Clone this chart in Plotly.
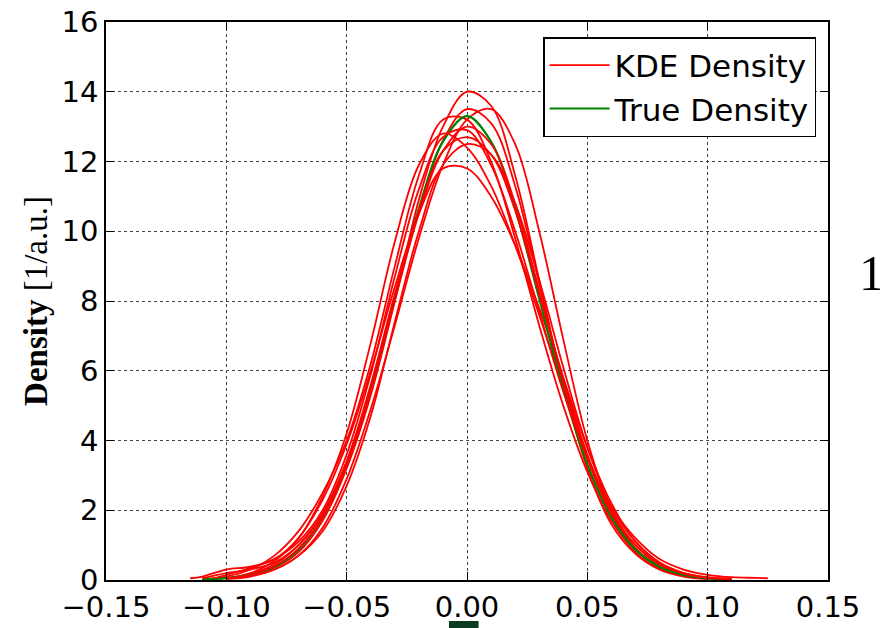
import plotly.graph_objects as go

# ---------------- data ----------------
true_x = [-0.11, -0.10, -0.09, -0.08, -0.07, -0.06, -0.05, -0.04, -0.03, -0.02, -0.01,
          0.00, 0.01, 0.02, 0.03, 0.04, 0.05, 0.06, 0.07, 0.08, 0.09, 0.10, 0.11]
true_y = [0.016, 0.052, 0.148, 0.38, 0.87, 1.80, 3.32, 5.47, 8.07, 10.65, 12.57,
          13.30, 12.57, 10.65, 8.07, 5.47, 3.32, 1.80, 0.87, 0.38, 0.148, 0.052, 0.016]

kde_a_x = [-0.11, -0.10, -0.09, -0.08, -0.07, -0.06, -0.05, -0.04, -0.03, -0.02, -0.01, 0.00, 0.01, 0.02, 0.03, 0.04, 0.05, 0.06, 0.07, 0.08, 0.09, 0.10, 0.11]
kde_a_y = [0.02, 0.06, 0.15, 0.35, 0.8, 1.7, 3.2, 5.3, 8.0, 10.9, 13.0, 14.0, 13.6, 11.6, 8.6, 5.6, 3.2, 1.6, 0.75, 0.3, 0.12, 0.04, 0.01]

kde_b_x = [-0.10, -0.09, -0.08, -0.07, -0.06, -0.05, -0.04, -0.03, -0.02, -0.01, 0.00, 0.01, 0.02, 0.03, 0.04, 0.05, 0.06, 0.07, 0.08, 0.09, 0.10]
kde_b_y = [0.05, 0.18, 0.45, 1.0, 1.9, 3.4, 5.5, 8.1, 10.6, 12.6, 13.5, 13.1, 11.3, 8.5, 5.6, 3.3, 1.8, 0.9, 0.4, 0.15, 0.05]

kde_c_x = [-0.10, -0.09, -0.08, -0.07, -0.06, -0.05, -0.04, -0.03, -0.02, -0.01, 0.00, 0.01, 0.02, 0.03, 0.04, 0.05, 0.06, 0.07, 0.08, 0.09, 0.10]
kde_c_y = [0.04, 0.12, 0.3, 0.7, 1.5, 2.9, 4.9, 7.3, 9.8, 11.9, 13.2, 13.5, 12.5, 10.0, 6.9, 4.0, 2.0, 0.9, 0.35, 0.12, 0.04]

kde_d_x = [-0.11, -0.10, -0.09, -0.08, -0.07, -0.06, -0.05, -0.04, -0.03, -0.02, -0.01, 0.00, 0.01, 0.02, 0.03, 0.04, 0.05, 0.06, 0.07, 0.08, 0.09, 0.10]
kde_d_y = [0.03, 0.1, 0.3, 0.7, 1.4, 2.5, 4.0, 6.2, 9.0, 11.6, 13.2, 13.2, 12.0, 9.8, 7.3, 5.0, 3.1, 1.7, 0.8, 0.3, 0.1, 0.03]

kde_e_x = [-0.115, -0.11, -0.10, -0.09, -0.08, -0.07, -0.06, -0.05, -0.04, -0.03, -0.02, -0.01, 0.00, 0.01, 0.02, 0.03, 0.04, 0.05, 0.06, 0.07, 0.08, 0.09, 0.10]
kde_e_y = [0.05, 0.1, 0.3, 0.38, 0.6, 1.2, 2.4, 4.2, 6.8, 9.7, 11.9, 12.8, 12.4, 11.3, 9.6, 7.6, 5.5, 3.5, 1.9, 0.9, 0.35, 0.12, 0.04]

kde_f_x = [-0.10, -0.09, -0.08, -0.07, -0.06, -0.05, -0.04, -0.03, -0.02, -0.01, 0.00, 0.01, 0.02, 0.03, 0.04, 0.05, 0.06, 0.07, 0.08, 0.09, 0.10, 0.11]
kde_f_y = [0.05, 0.2, 0.55, 1.2, 2.3, 3.9, 6.0, 8.4, 10.5, 11.8, 11.8, 11.0, 9.6, 7.8, 5.8, 3.8, 2.2, 1.1, 0.5, 0.2, 0.07, 0.02]

kde_g_x = [-0.10, -0.09, -0.08, -0.07, -0.06, -0.05, -0.04, -0.03, -0.02, -0.01, 0.00, 0.01, 0.02, 0.03, 0.04, 0.05, 0.06, 0.07, 0.08, 0.09, 0.10, 0.11]
kde_g_y = [0.03, 0.1, 0.3, 0.7, 1.4, 2.7, 4.7, 7.4, 10.0, 11.9, 12.5, 12.2, 10.8, 8.6, 6.1, 3.8, 2.1, 1.1, 0.5, 0.2, 0.07, 0.02]

kde_h_x = [-0.105, -0.10, -0.09, -0.08, -0.07, -0.06, -0.05, -0.04, -0.03, -0.02, -0.01, 0.00, 0.01, 0.02, 0.03, 0.04, 0.05, 0.06, 0.07, 0.08, 0.09, 0.10, 0.11, 0.12, 0.125]
kde_h_y = [0.05, 0.15, 0.35, 0.6, 1.1, 2.0, 3.6, 5.9, 8.7, 11.2, 12.7, 12.9, 11.9, 10.0, 7.7, 5.4, 3.5, 2.1, 1.2, 0.6, 0.3, 0.15, 0.08, 0.06, 0.05]

kde_i_x = [-0.10, -0.09, -0.08, -0.07, -0.06, -0.05, -0.04, -0.03, -0.02, -0.01, 0.00, 0.01, 0.02, 0.03, 0.04, 0.05, 0.06, 0.07, 0.08, 0.09, 0.10]
kde_i_y = [0.05, 0.15, 0.4, 0.9, 1.8, 3.3, 5.4, 8.0, 10.5, 12.3, 13.0, 12.5, 10.8, 8.3, 5.7, 3.5, 1.9, 1.0, 0.45, 0.18, 0.06]

kde_j_x = [-0.11, -0.10, -0.09, -0.08, -0.07, -0.06, -0.05, -0.04, -0.03, -0.02, -0.01, 0.00, 0.01, 0.02, 0.03, 0.04, 0.05, 0.06, 0.07, 0.08, 0.09, 0.10, 0.11]
kde_j_y = [0.05, 0.2, 0.3, 0.5, 1.0, 1.9, 3.4, 5.6, 8.2, 10.6, 12.3, 12.7, 12.2, 10.6, 8.2, 5.8, 3.6, 2.0, 1.0, 0.45, 0.2, 0.08, 0.03]

kde_series = [(kde_a_x, kde_a_y), (kde_b_x, kde_b_y), (kde_c_x, kde_c_y), (kde_d_x, kde_d_y),
              (kde_e_x, kde_e_y), (kde_f_x, kde_f_y), (kde_g_x, kde_g_y), (kde_h_x, kde_h_y),
              (kde_i_x, kde_i_y), (kde_j_x, kde_j_y)]

x_ticks = [-0.15, -0.10, -0.05, 0.00, 0.05, 0.10, 0.15]
y_ticks = [0, 2, 4, 6, 8, 10, 12, 14, 16]

# ---------------- figure ----------------
fig = go.Figure()
for i, (xs, ys) in enumerate(kde_series):
    fig.add_trace(go.Scatter(
        x=xs, y=ys, mode="lines", line=dict(color="#ff0000", width=1.8, shape="spline"),
        name="KDE Density", legendgroup="kde", showlegend=(i == 0)))
    if i == 5:
        fig.add_trace(go.Scatter(
            x=true_x, y=true_y, mode="lines", line=dict(color="#008000", width=2.2, shape="spline"),
            name="True Density", legendgroup="true"))

axis_common = dict(
    showline=True, linecolor="black", linewidth=1.5, mirror="allticks",
    ticks="inside", ticklen=8, tickwidth=1, tickcolor="black",
    showgrid=True, gridcolor="#444444", griddash="dot", gridwidth=1,
    zeroline=False, tickfont=dict(family="DejaVu Sans", size=29, color="black"),
    automargin=False,
)

fig.update_xaxes(range=[-0.15, 0.15], tickvals=x_ticks, tickformat=".2f", **axis_common)
fig.update_yaxes(range=[0, 16], tickvals=y_ticks,
                 title=dict(text="<b>Density</b> [1/a.u.]",
                            font=dict(family="Liberation Serif", size=33, color="black"),
                            standoff=4),
                 **axis_common)

fig.update_layout(
    width=880, height=628,
    margin=dict(l=106, r=52, t=22, b=48),
    paper_bgcolor="white", plot_bgcolor="white",
    showlegend=True,
    legend=dict(x=0.9835, y=0.973, xanchor="right", yanchor="top",
                bgcolor="white", bordercolor="black", borderwidth=1.5,
                font=dict(family="DejaVu Sans", size=31, color="black"),
                itemwidth=60, tracegroupgap=4, traceorder="normal"),
    annotations=[dict(text="1", xref="paper", yref="paper", x=1.0, y=0.55,
                      xanchor="left", yanchor="middle", xshift=29, showarrow=False,
                      font=dict(family="Liberation Serif", size=50, color="black"))],
    shapes=[dict(type="rect", xref="paper", yref="paper", x0=0.475, x1=0.516,
                 y0=-0.0735, y1=-0.1, fillcolor="#0b3b22", line=dict(width=0))],
)

fig.write_html("out.html")
